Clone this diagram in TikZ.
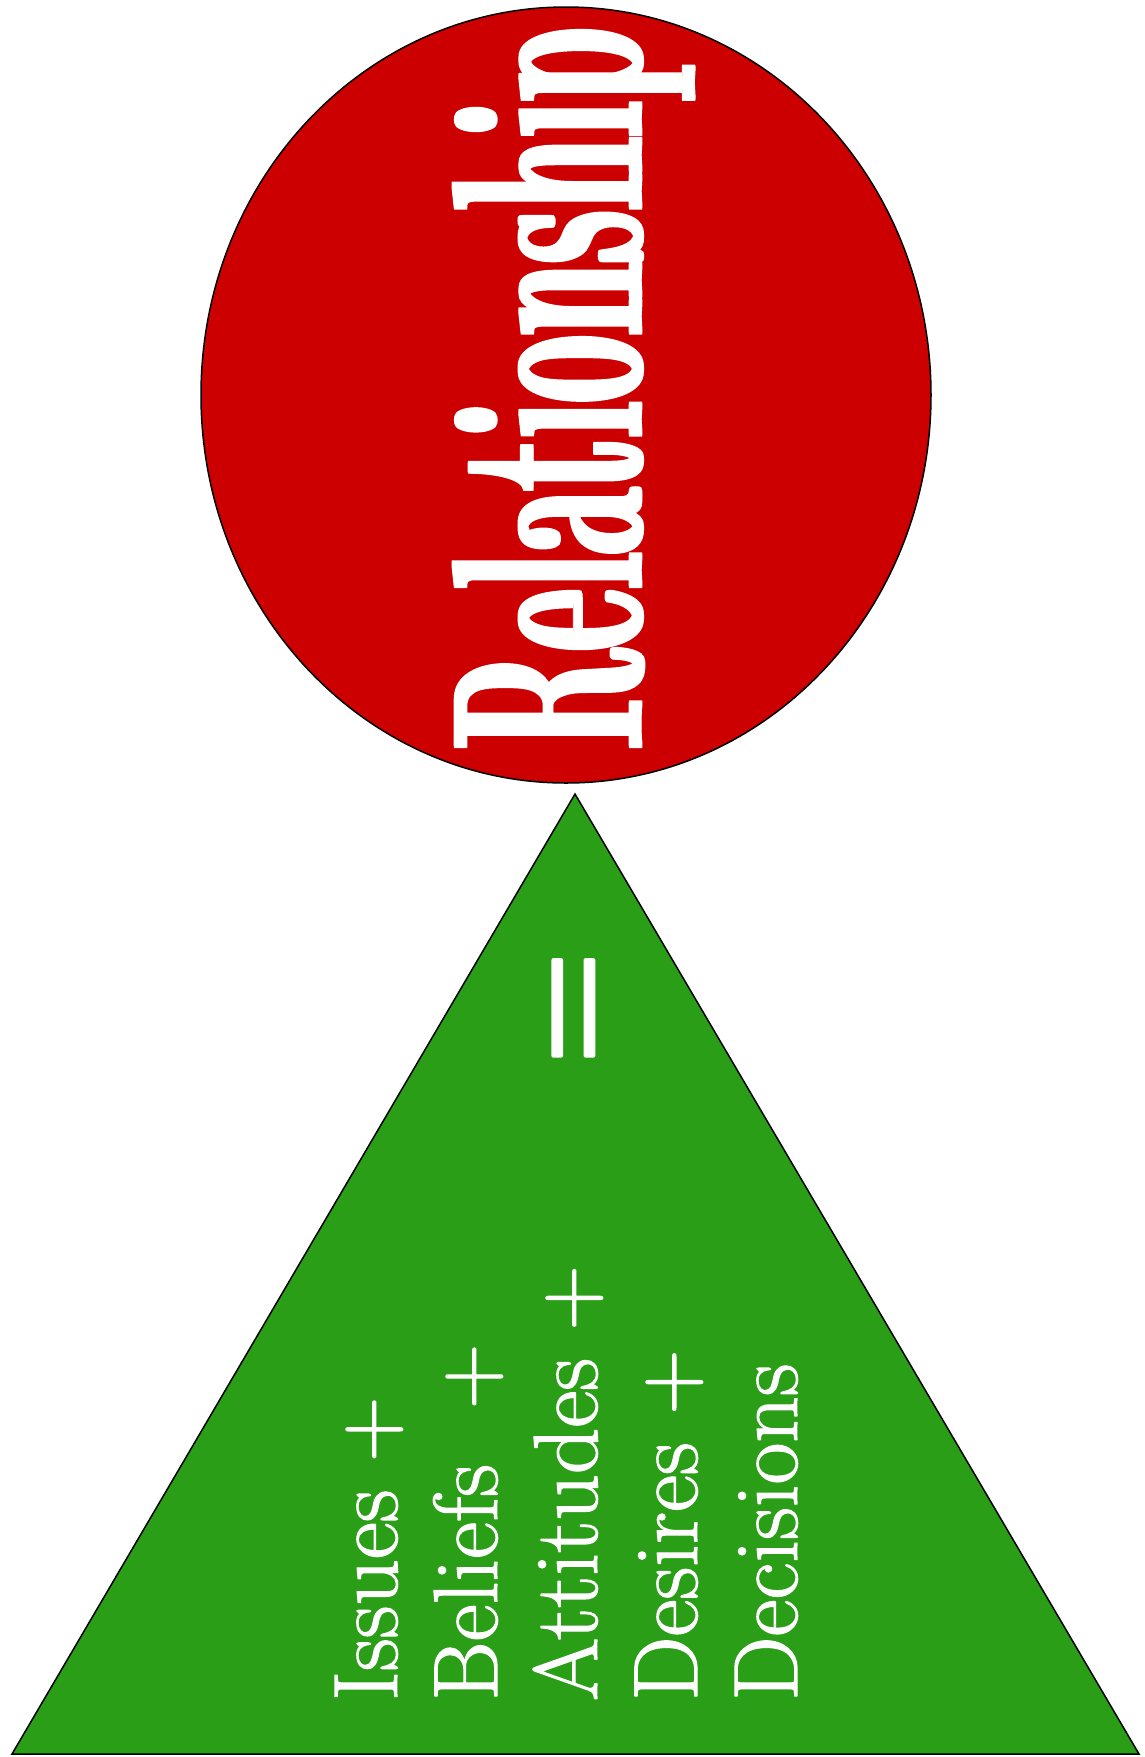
\documentclass[tikz,border=0pt]{standalone}
\usepackage{fontspec}
\usepackage{graphicx}
\usepackage{xcolor}
\usepackage{tikz}
\usetikzlibrary{positioning}
\definecolor{relred}{RGB}{204,0,0}
\definecolor{basegreen}{RGB}{43,158,24}
\newfontfamily\titlefont{Latin Modern Roman}[FakeStretch=0.05]
\newfontfamily\eqfont{Liberation Serif}
\newcommand{\strokedtext}[2]{\special{pdf:literal direct 2 Tr 1 j #1 w}#2\special{pdf:literal direct 0 Tr}}

\begin{document}
\begin{tikzpicture}[
    x=1pt, y=-1pt,
    bubble/.style={draw=black, line width=1.5pt, fill=relred},
    base/.style={draw=black, line width=1.5pt, fill=basegreen},
    titletext/.style={rotate=90, anchor=base west, inner sep=0pt, text=white, font=\titlefont\bfseries},
    linetext/.style={rotate=90, anchor=base west, inner sep=0pt, text=white, font=\fontsize{91}{100}\selectfont}
]
\useasboundingbox (0,0) rectangle (1144,1757);

% Relationship bubble
\draw[bubble] (566,395) ellipse [x radius=365, y radius=388];
\node[titletext] (title) at (642,749) {\resizebox{715pt}{190pt}{\strokedtext{0.033}{Relationship}}};

% Base triangle
\coordinate (apex) at (575,794);
\coordinate (bl) at (12,1754);
\coordinate (br) at (1139,1754);
\draw[base] (apex) -- (br) -- (bl) -- cycle;

% Equals sign
\node[rotate=90, inner sep=0pt, text=white] (equals) at (590,1008) {\scalebox{20.4}[16.1]{\strokedtext{0.23}{\eqfont =}}};

% Terms
\node[linetext] (issues) at (397,1701) {\strokedtext{1.2}{Issues +}};
\node[linetext] (beliefs) at (497,1701) {\strokedtext{1.2}{Beliefs \ +}};
\node[linetext] (attitudes) at (597,1701) {\strokedtext{1.2}{Attitudes +}};
\node[linetext] (desires) at (697,1701) {\strokedtext{1.2}{Desires +}};
\node[linetext] (decisions) at (797,1701) {\strokedtext{1.2}{Decisions}};

\end{tikzpicture}
\end{document}
